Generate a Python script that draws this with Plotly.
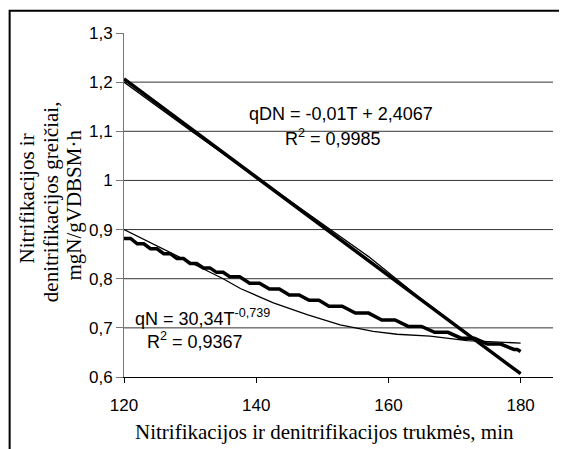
import plotly.graph_objects as go

# ---- data ----
t_dn_data = [120, 130, 140, 150, 157, 165, 180]
q_dn_data = [1.200, 1.102, 1.007, 0.912, 0.845, 0.758, 0.607]

t_dn_trend = [120, 180]
q_dn_trend = [1.2067, 0.6067]

t_n_data = [120, 135, 137.6, 142.6, 147.7, 152.7, 157.7, 161.3, 166.3, 171.9, 180]
q_n_data = [0.900, 0.800, 0.780, 0.751, 0.727, 0.706, 0.693, 0.687, 0.683, 0.674, 0.669]

# stepped rendering of the power trend line (step starts and levels)
t_n_trend = [120, 122, 124, 126, 128, 130, 132, 134, 136, 139, 142, 145, 148,
             151, 155, 159, 163, 167, 171, 175, 179, 180]
q_n_trend = [0.882, 0.871, 0.861, 0.851, 0.841, 0.831, 0.822, 0.813, 0.804,
             0.791, 0.779, 0.767, 0.756, 0.744, 0.730, 0.716, 0.703, 0.691,
             0.679, 0.667, 0.656, 0.652]

x_ticks = [120, 140, 160, 180]
y_ticks = [0.6, 0.7, 0.8, 0.9, 1.0, 1.1, 1.2, 1.3]
y_tick_text = ["0,6", "0,7", "0,8", "0,9", "1", "1,1", "1,2", "1,3"]
grid_levels = [0.7, 0.8, 0.9, 1.0, 1.1, 1.2]

y_title_lines = ["Nitrifikacijos ir", "denitrifikacijos greičiai,", "mgN/gVDBSM·h"]
x_title = "Nitrifikacijos ir denitrifikacijos trukmės, min"

# build stair vertices from the step list
sx, sy = [], []
for i in range(len(t_n_trend) - 1):
    sx += [t_n_trend[i], (t_n_trend[i] + t_n_trend[i + 1]) / 2]
    sy += [q_n_trend[i], q_n_trend[i]]
sx.append(t_n_trend[-1])
sy.append(q_n_trend[-1])

fig = go.Figure()
fig.add_trace(go.Scatter(x=t_dn_trend, y=q_dn_trend, mode="lines",
                         line=dict(color="black", width=3.5)))
fig.add_trace(go.Scatter(x=t_dn_data, y=q_dn_data, mode="lines",
                         line=dict(color="black", width=1.3)))
fig.add_trace(go.Scatter(x=sx, y=sy, mode="lines",
                         line=dict(color="black", width=3.5)))
fig.add_trace(go.Scatter(x=t_n_data, y=q_n_data, mode="lines",
                         line=dict(color="black", width=1.3)))

shapes = []
for g in grid_levels:
    shapes.append(dict(type="line", xref="paper", yref="y", x0=0, x1=1, y0=g, y1=g,
                       line=dict(color="#333333", width=1), layer="below"))
# outer frame
shapes.append(dict(type="rect", xref="paper", yref="paper",
                   x0=-0.2666, x1=1.0256, y0=-0.35, y1=1.065,
                   line=dict(color="black", width=2)))

num_font = dict(family="Liberation Sans, Arial, sans-serif", size=17, color="black")
ann_font = dict(family="Liberation Sans, Arial, sans-serif", size=18, color="black")
serif_font = dict(family="Liberation Serif, Times New Roman, serif", size=21, color="black")

annotations = [
    dict(xref="x", yref="y", x=138.6, y=1.136, text="qDN = -0,01T + 2,4067",
         showarrow=False, xanchor="left", yanchor="middle", font=ann_font),
    dict(xref="x", yref="y", x=144.1, y=1.088, text="R<sup>2</sup> = 0,9985",
         showarrow=False, xanchor="left", yanchor="middle", font=ann_font),
    dict(xref="x", yref="y", x=121.4, y=0.721, text="qN = 30,34T<sup>-0,739</sup>",
         showarrow=False, xanchor="left", yanchor="middle", font=ann_font),
    dict(xref="x", yref="y", x=123.2, y=0.674, text="R<sup>2</sup> = 0,9367",
         showarrow=False, xanchor="left", yanchor="middle", font=ann_font),
    dict(xref="paper", yref="paper", x=0.467, y=-0.16, text=x_title,
         showarrow=False, xanchor="center", yanchor="middle", font=serif_font),
]
for xp, yp, line in zip([-0.2254, -0.1711, -0.1176], [0.52, 0.51, 0.50], y_title_lines):
    annotations.append(dict(xref="paper", yref="paper", x=xp, y=yp, text=line,
                            showarrow=False, textangle=-90, xanchor="center",
                            yanchor="middle", font=serif_font))

fig.update_layout(
    width=567, height=449,
    margin=dict(l=115.5, r=22, t=25.3, b=80.3),
    paper_bgcolor="white", plot_bgcolor="white",
    showlegend=False,
    shapes=shapes,
    annotations=annotations,
    xaxis=dict(range=[120, 184.9], tickvals=x_ticks, ticktext=[str(v) for v in x_ticks],
               showgrid=False, zeroline=False, showline=True, linecolor="black",
               linewidth=1, ticks="outside", ticklen=5, tickcolor="black",
               tickfont=num_font, ticklabelstandoff=8),
    yaxis=dict(range=[0.6, 1.3], tickvals=y_ticks, ticktext=y_tick_text,
               showgrid=False, zeroline=False, showline=True, linecolor="#777777",
               linewidth=1, ticks="outside", ticklen=7, tickcolor="#777777",
               tickfont=num_font, ticklabelstandoff=0),
)

fig.write_html("out.html")
